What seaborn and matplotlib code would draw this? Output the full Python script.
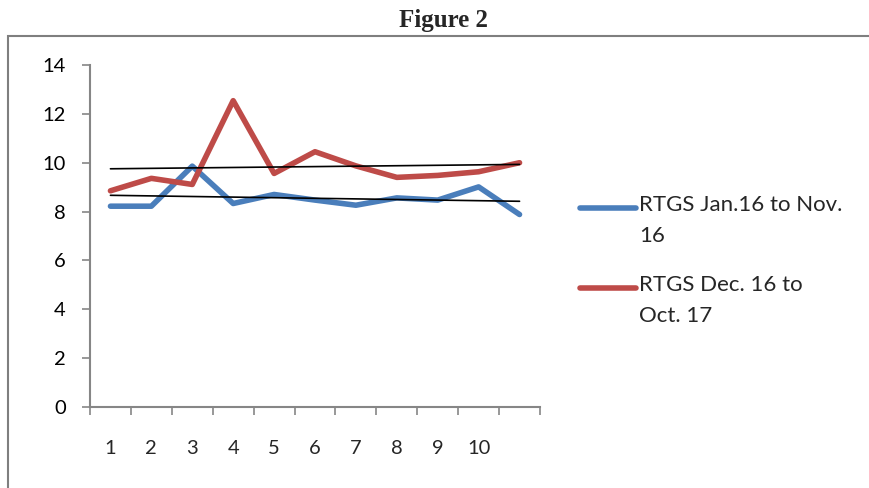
import numpy as np
import pandas as pd
import matplotlib
matplotlib.use('Agg')
import matplotlib.pyplot as plt
from matplotlib.lines import Line2D
from matplotlib.patches import Rectangle
import seaborn as sns

months = list(range(1, 12))
rtgs_2016 = [8.22, 8.22, 9.86, 8.33, 8.70, 8.47, 8.26, 8.56, 8.47, 9.01, 7.88]
rtgs_2017 = [8.85, 9.36, 9.11, 12.54, 9.56, 10.45, 9.87, 9.40, 9.48, 9.63, 10.00]
series_names = ['RTGS Jan.16 to Nov. 16', 'RTGS Dec. 16 to Oct. 17']
legend_labels = ['RTGS Jan.16 to Nov.\n16', 'RTGS Dec. 16 to\nOct. 17']
tick_labels = ['1', '2', '3', '4', '5', '6', '7', '8', '9', '10', '']
colors = ['#4a7ebb', '#be4b48']

df = pd.DataFrame({
    'month': months * 2,
    'value': rtgs_2016 + rtgs_2017,
    'series': [series_names[0]] * 11 + [series_names[1]] * 11,
})

sns.set_style('white')
plt.rcParams['font.family'] = ['Lato', 'DejaVu Sans']

fig = plt.figure(figsize=(8.7, 4.88), dpi=100)
ax = fig.add_axes([90 / 870, 1 - 407 / 488, 450 / 870, 342 / 488])

sns.lineplot(data=df, x='month', y='value', hue='series', palette=colors,
             linewidth=4, ax=ax, legend=False, solid_capstyle='round')

# linear trendlines like excel
for vals in [rtgs_2016, rtgs_2017]:
    k, b = np.polyfit(months, vals, 1)
    xs = np.array([months[0], months[-1]])
    ax.plot(xs, k * xs + b, color='black', lw=1.2)

ax.set_xlim(0.5, 11.5)
ax.set_ylim(0, 14)
ax.set_yticks(range(0, 15, 2))
ax.set_xticks(np.arange(0.5, 12, 1))
ax.set_xticklabels([])
ax.set_xticks(months, minor=True)
ax.set_xticklabels(tick_labels, minor=True)
ax.set_xlabel('')
ax.set_ylabel('')

for s in ['top', 'right']:
    ax.spines[s].set_visible(False)
for s in ['left', 'bottom']:
    ax.spines[s].set_color('#868686')
    ax.spines[s].set_linewidth(1.5)
ax.tick_params(axis='both', which='major', direction='out', length=5.5, width=1.2,
               color='#868686', labelsize=14.5, labelcolor='black',
               bottom=True, left=True)
ax.tick_params(axis='y', pad=12)
ax.tick_params(axis='x', which='minor', length=0, pad=24, labelsize=14.5,
               bottom=True)
ax.set_facecolor('white')

# legend drawn by hand so the key sits on the first text line
for i, (lab, c) in enumerate(zip(legend_labels, colors)):
    yy = 1 - (208 + 80 * i) / 488
    fig.add_artist(Line2D([580 / 870, 636 / 870], [yy, yy], color=c, lw=4,
                          solid_capstyle='round', transform=fig.transFigure))
    fig.text(639 / 870, yy + 13 / 488, lab, fontsize=16, va='top', ha='left',
             linespacing=1.7)

fig.patches.append(Rectangle((8 / 870, -0.2), 1.2, 1.2 - 36 / 488,
                             transform=fig.transFigure, fill=False,
                             edgecolor='#7f7f7f', lw=1.5))
fig.text(444 / 870, 1 - 21 / 488, 'Figure 2', ha='center', va='center',
         fontsize=18, fontweight='bold', family='Liberation Serif')

fig.savefig('out.png', dpi=100, facecolor='white')
